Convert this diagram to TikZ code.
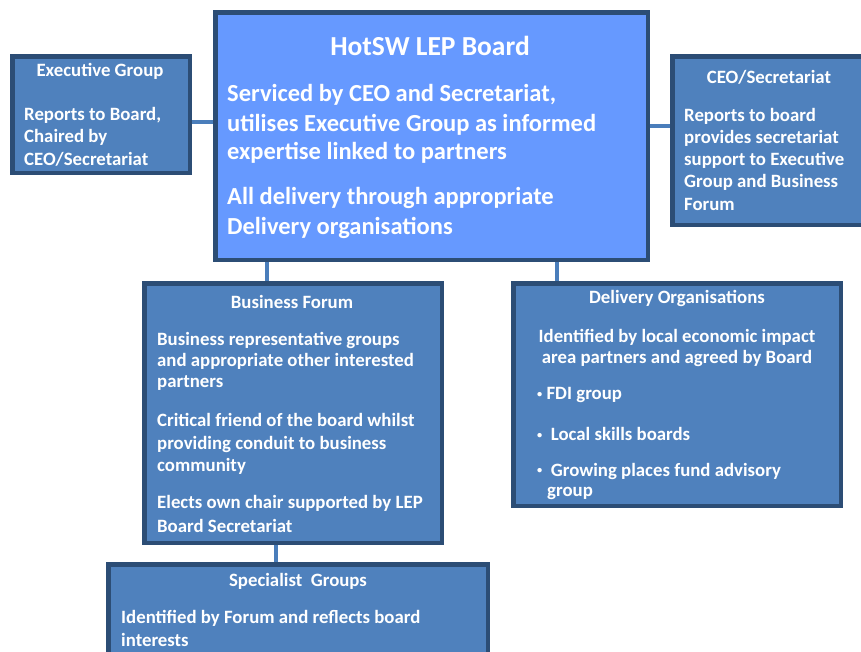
\documentclass[tikz,border=0pt]{standalone}
\usepackage{fontspec}
\usepackage{graphicx}
\setmainfont{Carlito}
\definecolor{boxfill}{HTML}{4F81BD}
\definecolor{boardfill}{HTML}{6699FF}
\definecolor{boxline}{HTML}{2C4D75}
\definecolor{linkline}{HTML}{4A7EBB}
\newcommand{\smallbul}{\raisebox{0.25ex}{\scalebox{0.55}{\textbullet}}}
\begin{document}
\begin{tikzpicture}[x=1pt,y=-1pt,
  box/.style={draw=boxline,line width=3pt,fill=boxfill,rectangle,inner sep=0pt},
  bigbox/.style={box,fill=boardfill},
  txt/.style={text=white,font=\bfseries\fontsize{18.8}{22}\selectfont,inner sep=0pt,anchor=west},
  ttl/.style={text=white,font=\bfseries\fontsize{18.8}{22}\selectfont,inner sep=0pt},
  bigtxt/.style={text=white,font=\bfseries\fontsize{24.5}{29}\selectfont,inner sep=0pt,anchor=west},
  link/.style={draw=linkline,line width=3.5pt}]
\useasboundingbox (0,0) rectangle (861,651);
% boxes
\node[bigbox,minimum width=431pt,minimum height=246pt] (board) at (431.5,136) {};
\node[box,minimum width=176pt,minimum height=115pt] (exec) at (101,114.5) {};
\node[box,minimum width=200pt,minimum height=167pt] (ceo) at (773,140.5) {};
\node[box,minimum width=296pt,minimum height=258pt] (bf) at (293,413) {};
\node[box,minimum width=326pt,minimum height=221pt] (del) at (677,394.5) {};
\node[box,minimum width=378pt,minimum height=120pt] (spec) at (298,625) {};
% connectors
\coordinate (eL) at (189,122);
\coordinate (cR) at (673,126);
\draw[link] (exec.east |- eL) -- (board.west |- eL);
\draw[link] (board.east |- cR) -- (ceo.west |- cR);
\coordinate (bfx) at (267,0);
\coordinate (delx) at (557,0);
\coordinate (spx) at (276,0);
\draw[link] (board.south -| bfx) -- (bf.north -| bfx);
\draw[link] (board.south -| delx) -- (del.north -| delx);
\draw[link] (bf.south -| spx) -- (spec.north -| spx);
% redraw box borders on top of connector ends
\foreach \n in {board,exec,ceo,bf,del,spec}{\draw[draw=boxline,line width=3pt] (\n.north west) rectangle (\n.south east);}
% board text
\node[text=white,font=\bfseries\fontsize{27.5}{32}\selectfont,inner sep=0pt] (t0) at (430,46) {HotSW LEP Board};
\node[bigtxt] (t1) at (227,95) {Serviced by CEO and Secretariat,};
\node[bigtxt] (t2) at (227,125) {utilises Executive Group as informed};
\node[bigtxt] (t3) at (227,153) {expertise linked to partners};
\node[bigtxt] (t4) at (227,198) {All delivery through appropriate};
\node[bigtxt] (t5) at (227,228) {Delivery organisations};
% exec text
\node[ttl] (e0) at (100,71) {Executive Group};
\node[txt] (e1) at (24,115) {Reports to Board,};
\node[txt] (e2) at (24,137) {Chaired by};
\node[txt] (e3) at (24,159) {CEO/Secretariat};
% ceo text
\node[ttl] (c0) at (769,77) {CEO/Secretariat};
\node[txt] (c1) at (684,116) {Reports to board};
\node[txt] (c2) at (684,138) {provides secretariat};
\node[txt] (c3) at (684,160) {support to Executive};
\node[txt] (c4) at (684,182) {Group and Business};
\node[txt] (c5) at (684,204) {Forum};
% business forum text
\node[ttl] (b0) at (292,302) {Business Forum};
\node[txt] (b1) at (157,340) {Business representative groups};
\node[txt] (b2) at (157,361) {and appropriate other interested};
\node[txt] (b3) at (157,383) {partners};
\node[txt] (b4) at (157,420) {Critical friend of the board whilst};
\node[txt] (b5) at (157,444) {providing conduit to business};
\node[txt] (b6) at (157,466) {community};
\node[txt] (b7) at (157,503) {Elects own chair supported by LEP};
\node[txt] (b8) at (157,526) {Board Secretariat};
% delivery text
\node[ttl] (d0) at (677,298) {Delivery Organisations};
\node[ttl] (d1) at (677,337) {Identified by local economic impact};
\node[ttl] (d2) at (677,358) {area partners and agreed by Board};
\node[txt] (d3) at (537,395) {\smallbul\ FDI group};
\node[txt] (d4) at (537,434) {\smallbul\ \ Local skills boards};
\node[txt] (d5) at (537,471) {\smallbul\ \ Growing places fund advisory};
\node[txt] (d6) at (547,493) {group};
% specialist text
\node[ttl] (s0) at (298,581) {Specialist\ \ Groups};
\node[txt] (s1) at (121,618) {Identified by Forum and reflects board};
\node[txt] (s2) at (121,640) {interests};
\end{tikzpicture}
\end{document}
